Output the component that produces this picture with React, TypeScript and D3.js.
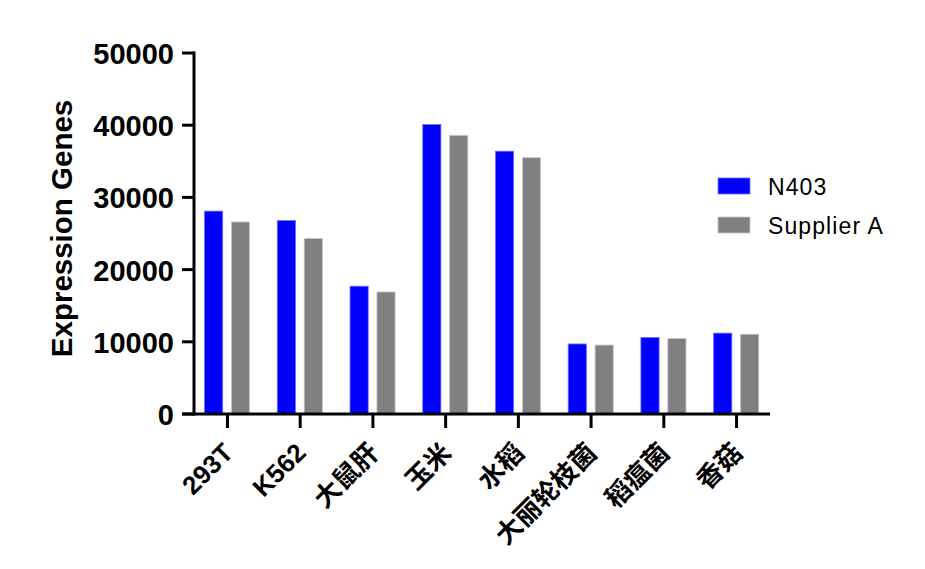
import * as d3 from 'd3';

const categories = ['293T', 'K562', '大鼠肝', '玉米', '水稻', '大丽轮枝菌', '稻瘟菌', '香菇'];
const n403 = [28100, 26800, 17700, 40100, 36400, 9700, 10600, 11200];
const supplierA = [26600, 24300, 16900, 38600, 35500, 9550, 10450, 11050];
const yTicks = [0, 10000, 20000, 30000, 40000, 50000];
const seriesNames = ['N403', 'Supplier A'];
const seriesColors = ['#0000ff', '#808080'];
const seriesStrokes = ['#6f6fff', '#c8c8c8'];

const FONT = '"Liberation Sans", Arial, "Noto Sans CJK SC", sans-serif';

export default function App() {
  const left = 194;
  const right = 770;
  const top = 53;
  const bottom = 414;

  const x = d3.scalePoint<string>().domain(categories).range([left, right]).padding(0.46);
  const y = d3.scaleLinear().domain([0, 50000]).range([bottom, top]);
  const step = x.step();
  const barW = step * 0.25;
  const offsets = [-step * 0.19, step * 0.18];
  const series = [n403, supplierA];

  return (
    <svg
      width={925}
      height={569}
      style={{ position: 'absolute', left: 0, top: 0, background: '#fff' }}
      fontFamily={FONT}
    >
      {/* bars */}
      {series.map((vals, si) =>
        categories.map((c, i) => (
          <rect
            key={`${si}-${c}`}
            x={(x(c) as number) + offsets[si] - barW / 2}
            y={y(vals[i])}
            width={barW}
            height={y(0) - y(vals[i])}
            fill={seriesColors[si]}
            stroke={seriesStrokes[si]}
            strokeWidth={0.8}
          />
        ))
      )}

      {/* y axis */}
      <line x1={left} x2={left} y1={top - 1.5} y2={bottom + 1.5} stroke="#000" strokeWidth={3} />
      {yTicks.map((t) => (
        <g key={t}>
          <line x1={left - 12} x2={left} y1={y(t)} y2={y(t)} stroke="#000" strokeWidth={3} />
          <text
            x={left - 20}
            y={y(t) + 1}
            textAnchor="end"
            dominantBaseline="central"
            fontSize={29}
            fontWeight="bold"
          >
            {t}
          </text>
        </g>
      ))}
      <text
        transform={`translate(61,${(top + bottom) / 2 - 5}) rotate(-90)`}
        textAnchor="middle"
        dominantBaseline="central"
        fontSize={29.5}
        fontWeight="bold"
      >
        Expression Genes
      </text>

      {/* x axis */}
      <line x1={left - 12} x2={right} y1={bottom} y2={bottom} stroke="#000" strokeWidth={3} />
      {categories.map((c) => (
        <g key={c}>
          <line x1={x(c)} x2={x(c)} y1={bottom} y2={bottom + 14} stroke="#000" strokeWidth={3} />
          <text
            transform={`translate(${(x(c) as number) + 1},${bottom + 34}) rotate(-45)`}
            textAnchor="end"
            dominantBaseline="central"
            fontSize={26}
            fontWeight="bold"
          >
            {c}
          </text>
        </g>
      ))}

      {/* legend */}
      {seriesNames.map((name, i) => (
        <g key={name} transform={`translate(718,${178 + i * 39})`}>
          <rect width={32} height={16} fill={seriesColors[i]} stroke={seriesStrokes[i]} strokeWidth={0.8} />
          <text x={50} y={9} dominantBaseline="central" fontSize={23} letterSpacing={1.1}>
            {name}
          </text>
        </g>
      ))}
    </svg>
  );
}
